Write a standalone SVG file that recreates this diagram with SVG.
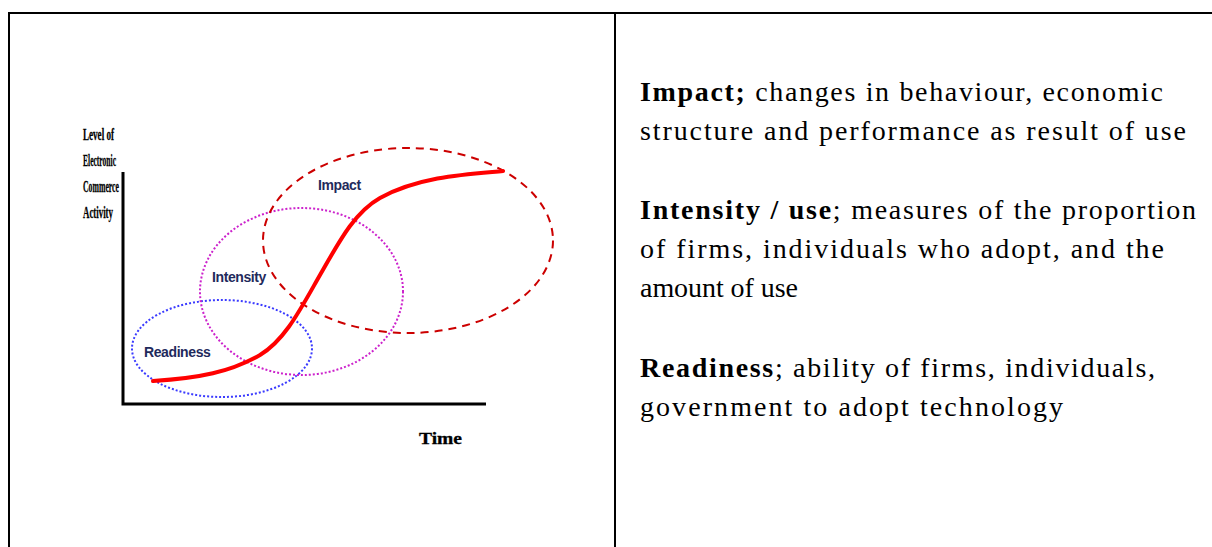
<svg xmlns="http://www.w3.org/2000/svg" width="1212" height="547" viewBox="0 0 1212 547">
<style>
.frame{stroke:#000;stroke-width:2;fill:none}
.axis{stroke:#000;stroke-width:3;fill:none}
.lbl{font-family:"Liberation Sans",Arial,sans-serif;font-weight:bold;font-size:14px;fill:#1f2a5c;letter-spacing:-0.4px}
.ax{font-family:"Liberation Serif","Times New Roman",serif;font-weight:bold;font-size:16px;fill:#000;stroke:#000;stroke-width:0.3}
.body{font-family:"Liberation Serif","Times New Roman",serif;font-size:28px;fill:#000}
.b{font-weight:bold}
</style>
<rect width="1212" height="547" fill="#fff"/>
<g id="frame">
<line class="frame" x1="8" y1="13" x2="1212" y2="13"/>
<line class="frame" x1="9" y1="12" x2="9" y2="547"/>
<line class="frame" x1="615" y1="12" x2="615" y2="547"/>
</g>
<g id="axes">
<polyline class="axis" points="123,172 123,404 486,404"/>
<text class="ax" x="83" y="140" textLength="31" lengthAdjust="spacingAndGlyphs">Level of</text>
<text class="ax" x="83" y="166" textLength="33" lengthAdjust="spacingAndGlyphs">Electronic</text>
<text class="ax" x="83" y="192" textLength="36" lengthAdjust="spacingAndGlyphs">Commerce</text>
<text class="ax" x="83" y="218" textLength="30" lengthAdjust="spacingAndGlyphs">Activity</text>
<text class="ax" x="419" y="444" textLength="43" lengthAdjust="spacingAndGlyphs">Time</text>
</g>
<g id="readiness">
<ellipse cx="222" cy="348.5" rx="90" ry="48.5" fill="none" stroke="#3b3bff" stroke-width="2" stroke-dasharray="2,2"/>
<text class="lbl" x="144" y="357">Readiness</text>
</g>
<g id="intensity">
<ellipse cx="301.5" cy="291.5" rx="101.5" ry="83.5" fill="none" stroke="#cc22cc" stroke-width="2" stroke-dasharray="2,2"/>
<text class="lbl" x="212" y="282">Intensity</text>
</g>
<g id="impact">
<ellipse cx="408" cy="240.5" rx="145" ry="92.5" fill="none" stroke="#cc0000" stroke-width="2" stroke-dasharray="8,6"/>
<text class="lbl" x="318" y="190">Impact</text>
</g>
<g id="connectors">
<path d="M153,381 C200,378 230,372 260,355 C285,340 300,310 320,275 C340,240 355,212 380,198 C420,176 470,174 503,171" fill="none" stroke="#ff0000" stroke-width="4" stroke-linecap="round"/>
</g>
<g id="legend">
<text class="body" x="640" y="101" textLength="523" lengthAdjust="spacing"><tspan class="b">Impact;</tspan> changes in behaviour, economic</text>
<text class="body" x="640" y="140" textLength="546" lengthAdjust="spacing">structure and performance as result of use</text>
<text class="body" x="640" y="219" textLength="556" lengthAdjust="spacing"><tspan class="b">Intensity / use</tspan>; measures of the proportion</text>
<text class="body" x="640" y="258" textLength="524" lengthAdjust="spacing">of firms, individuals who adopt, and the</text>
<text class="body" x="640" y="297" textLength="158" lengthAdjust="spacing">amount of use</text>
<text class="body" x="640" y="377" textLength="515" lengthAdjust="spacing"><tspan class="b">Readiness</tspan>; ability of firms, individuals,</text>
<text class="body" x="640" y="416" textLength="423" lengthAdjust="spacing">government to adopt technology</text>
</g>
</svg>
